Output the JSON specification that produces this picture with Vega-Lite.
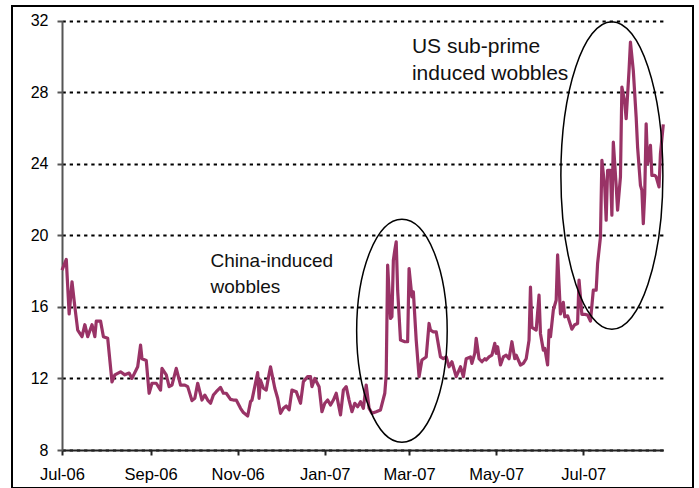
{
  "$schema": "https://vega.github.io/schema/vega-lite/v6.json",
  "width": 681,
  "height": 482,
  "autosize": {"type": "none"},
  "padding": {"left": 12, "top": 6, "right": 6, "bottom": 0},
  "background": "white",
  "config": {"view": {"stroke": "#000", "strokeWidth": 2}, "font": "Liberation Sans"},
  "datasets": {
    "series": [
      {"date":"2006-07-01","value":18.05},{"date":"2006-07-04","value":18.65},{"date":"2006-07-06","value":15.6},{"date":"2006-07-08","value":17.4},
      {"date":"2006-07-10","value":16.0},{"date":"2006-07-12","value":14.7},{"date":"2006-07-15","value":14.33},{"date":"2006-07-17","value":15.0},
      {"date":"2006-07-19","value":14.33},{"date":"2006-07-22","value":15.0},{"date":"2006-07-24","value":14.33},{"date":"2006-07-25","value":15.2},
      {"date":"2006-07-28","value":15.2},{"date":"2006-07-30","value":14.33},{"date":"2006-08-02","value":14.24},{"date":"2006-08-05","value":11.8},
      {"date":"2006-08-07","value":12.2},{"date":"2006-08-11","value":12.37},{"date":"2006-08-14","value":12.2},{"date":"2006-08-17","value":12.3},
      {"date":"2006-08-19","value":12.0},{"date":"2006-08-23","value":12.65},{"date":"2006-08-25","value":13.86},{"date":"2006-08-26","value":13.1},
      {"date":"2006-08-29","value":13.0},{"date":"2006-08-31","value":11.17},{"date":"2006-09-02","value":11.73},{"date":"2006-09-05","value":11.73},
      {"date":"2006-09-08","value":11.35},{"date":"2006-09-09","value":12.56},{"date":"2006-09-12","value":12.2},{"date":"2006-09-14","value":11.54},
      {"date":"2006-09-16","value":11.63},{"date":"2006-09-19","value":12.56},{"date":"2006-09-22","value":11.63},{"date":"2006-09-25","value":11.63},
      {"date":"2006-09-27","value":11.54},{"date":"2006-09-30","value":10.76},{"date":"2006-10-02","value":10.89},{"date":"2006-10-04","value":11.73},
      {"date":"2006-10-07","value":10.79},{"date":"2006-10-09","value":11.07},{"date":"2006-10-11","value":10.79},{"date":"2006-10-13","value":10.61},
      {"date":"2006-10-15","value":11.07},{"date":"2006-10-17","value":11.26},{"date":"2006-10-20","value":11.5},{"date":"2006-10-22","value":11.17},
      {"date":"2006-10-24","value":11.17},{"date":"2006-10-27","value":10.83},{"date":"2006-10-29","value":10.79},{"date":"2006-10-31","value":10.79},
      {"date":"2006-11-03","value":10.33},{"date":"2006-11-05","value":10.09},{"date":"2006-11-08","value":9.9},{"date":"2006-11-10","value":10.7},
      {"date":"2006-11-11","value":10.79},{"date":"2006-11-15","value":12.32},{"date":"2006-11-16","value":10.89},{"date":"2006-11-17","value":11.9},
      {"date":"2006-11-19","value":11.45},{"date":"2006-11-21","value":11.35},{"date":"2006-11-22","value":11.82},{"date":"2006-11-24","value":12.65},
      {"date":"2006-11-27","value":11.45},{"date":"2006-11-29","value":10.89},{"date":"2006-12-01","value":10.05},{"date":"2006-12-03","value":10.33},
      {"date":"2006-12-05","value":10.46},{"date":"2006-12-07","value":10.24},{"date":"2006-12-09","value":11.35},{"date":"2006-12-12","value":11.26},
      {"date":"2006-12-15","value":10.61},{"date":"2006-12-17","value":11.82},{"date":"2006-12-20","value":12.1},{"date":"2006-12-22","value":12.1},
      {"date":"2006-12-23","value":11.54},{"date":"2006-12-25","value":12.0},{"date":"2006-12-28","value":11.54},{"date":"2006-12-30","value":10.14},
      {"date":"2007-01-01","value":10.61},{"date":"2007-01-03","value":10.79},{"date":"2007-01-05","value":10.51},{"date":"2007-01-07","value":10.79},
      {"date":"2007-01-09","value":11.17},{"date":"2007-01-12","value":9.96},{"date":"2007-01-14","value":11.35},{"date":"2007-01-16","value":11.54},
      {"date":"2007-01-18","value":10.79},{"date":"2007-01-20","value":10.14},{"date":"2007-01-22","value":10.61},{"date":"2007-01-24","value":10.42},
      {"date":"2007-01-26","value":10.7},{"date":"2007-01-28","value":10.33},{"date":"2007-01-30","value":11.63},{"date":"2007-02-01","value":10.33},
      {"date":"2007-02-03","value":10.05},{"date":"2007-02-06","value":10.14},{"date":"2007-02-09","value":10.24},{"date":"2007-02-12","value":11.17},
      {"date":"2007-02-13","value":12.2},{"date":"2007-02-14","value":18.33},{"date":"2007-02-16","value":15.35},{"date":"2007-02-17","value":15.45},
      {"date":"2007-02-18","value":18.6},{"date":"2007-02-19","value":19.16},{"date":"2007-02-20","value":19.63},{"date":"2007-02-21","value":16.93},
      {"date":"2007-02-23","value":14.14},{"date":"2007-02-26","value":14.05},{"date":"2007-02-28","value":14.05},{"date":"2007-03-01","value":18.14},
      {"date":"2007-03-03","value":16.56},{"date":"2007-03-04","value":16.84},{"date":"2007-03-06","value":14.14},{"date":"2007-03-08","value":12.1},
      {"date":"2007-03-10","value":13.03},{"date":"2007-03-13","value":13.2},{"date":"2007-03-15","value":15.07},{"date":"2007-03-16","value":14.7},
      {"date":"2007-03-18","value":14.6},{"date":"2007-03-20","value":14.6},{"date":"2007-03-23","value":13.2},{"date":"2007-03-25","value":13.1},
      {"date":"2007-03-27","value":13.2},{"date":"2007-03-29","value":12.65},{"date":"2007-03-31","value":12.93},{"date":"2007-04-02","value":12.37},
      {"date":"2007-04-03","value":12.1},{"date":"2007-04-06","value":12.65},{"date":"2007-04-08","value":12.1},{"date":"2007-04-10","value":13.1},
      {"date":"2007-04-13","value":13.2},{"date":"2007-04-14","value":12.84},{"date":"2007-04-16","value":13.4},{"date":"2007-04-17","value":14.24},
      {"date":"2007-04-19","value":13.1},{"date":"2007-04-21","value":12.93},{"date":"2007-04-23","value":13.1},{"date":"2007-04-24","value":13.03},
      {"date":"2007-04-26","value":13.2},{"date":"2007-04-28","value":13.3},{"date":"2007-04-30","value":13.96},{"date":"2007-05-01","value":13.4},
      {"date":"2007-05-02","value":13.77},{"date":"2007-05-04","value":12.75},{"date":"2007-05-06","value":13.2},{"date":"2007-05-08","value":13.3},
      {"date":"2007-05-10","value":13.1},{"date":"2007-05-12","value":14.05},{"date":"2007-05-14","value":13.1},{"date":"2007-05-15","value":13.3},
      {"date":"2007-05-18","value":12.75},{"date":"2007-05-20","value":12.84},{"date":"2007-05-22","value":13.1},{"date":"2007-05-24","value":14.14},
      {"date":"2007-05-25","value":17.1},{"date":"2007-05-26","value":14.85},{"date":"2007-05-29","value":14.7},{"date":"2007-05-31","value":16.65},
      {"date":"2007-06-01","value":14.5},{"date":"2007-06-03","value":13.58},{"date":"2007-06-04","value":13.68},{"date":"2007-06-06","value":12.75},
      {"date":"2007-06-07","value":14.7},{"date":"2007-06-08","value":14.33},{"date":"2007-06-10","value":15.82},{"date":"2007-06-12","value":16.37},
      {"date":"2007-06-13","value":18.9},{"date":"2007-06-15","value":15.6},{"date":"2007-06-17","value":16.25},{"date":"2007-06-18","value":15.44},
      {"date":"2007-06-20","value":15.5},{"date":"2007-06-23","value":14.75},{"date":"2007-06-25","value":15.0},{"date":"2007-06-27","value":15.07},
      {"date":"2007-06-28","value":17.5},{"date":"2007-06-30","value":15.58},{"date":"2007-07-02","value":15.58},{"date":"2007-07-04","value":15.54},
      {"date":"2007-07-06","value":15.2},{"date":"2007-07-08","value":16.93},{"date":"2007-07-10","value":16.93},{"date":"2007-07-11","value":18.42},
      {"date":"2007-07-13","value":19.9},{"date":"2007-07-14","value":24.19},{"date":"2007-07-16","value":22.7},{"date":"2007-07-17","value":20.84},
      {"date":"2007-07-18","value":23.63},{"date":"2007-07-20","value":23.63},{"date":"2007-07-21","value":21.12},{"date":"2007-07-22","value":25.2},
      {"date":"2007-07-24","value":22.77},{"date":"2007-07-25","value":21.4},{"date":"2007-07-27","value":23.26},{"date":"2007-07-28","value":28.28},
      {"date":"2007-07-30","value":27.44},{"date":"2007-07-31","value":26.51},{"date":"2007-08-02","value":29.2},{"date":"2007-08-03","value":30.79},
      {"date":"2007-08-05","value":29.2},{"date":"2007-08-07","value":26.6},{"date":"2007-08-08","value":24.93},{"date":"2007-08-10","value":22.79},
      {"date":"2007-08-11","value":22.51},{"date":"2007-08-12","value":20.65},{"date":"2007-08-13","value":22.33},{"date":"2007-08-14","value":26.23},
      {"date":"2007-08-15","value":24.0},{"date":"2007-08-17","value":25.02},{"date":"2007-08-18","value":23.35},{"date":"2007-08-20","value":23.35},
      {"date":"2007-08-21","value":23.26},{"date":"2007-08-23","value":22.7},{"date":"2007-08-24","value":24.56},{"date":"2007-08-26","value":26.2}
    ]
  },
  "layer": [
    {
      "data": {"name": "series"},
      "mark": {"type": "line", "color": "#993366", "strokeWidth": 3.2, "strokeJoin": "round"},
      "encoding": {
        "x": {
          "field": "date", "type": "temporal",
          "scale": {"type": "utc", "domain": [{"year": 2006, "month": 7, "date": 1, "utc": true}, {"year": 2007, "month": 8, "date": 26, "utc": true}], "range": [50, 651.3]},
          "axis": {
            "title": null,
            "values": [
              {"year": 2006, "month": 7, "date": 1, "utc": true},
              {"year": 2006, "month": 9, "date": 1, "utc": true},
              {"year": 2006, "month": 11, "date": 1, "utc": true},
              {"year": 2007, "month": 1, "date": 1, "utc": true},
              {"year": 2007, "month": 3, "date": 1, "utc": true},
              {"year": 2007, "month": 5, "date": 1, "utc": true},
              {"year": 2007, "month": 7, "date": 1, "utc": true}
            ],
            "format": "%b-%y",
            "offset": -38,
            "grid": false,
            "domainColor": "#222", "domainWidth": 2,
            "tickColor": "#222", "tickWidth": 2, "tickSize": 5,
            "labelFont": "Liberation Sans", "labelFontSize": 16.5, "labelColor": "#000",
            "labelPadding": 11.5, "labelFlush": false, "labelOverlap": false
          }
        },
        "y": {
          "field": "value", "type": "quantitative",
          "scale": {"domain": [8, 32], "range": [444, 14.5], "nice": false, "zero": false},
          "axis": {
            "title": null,
            "values": [8, 12, 16, 20, 24, 28, 32],
            "offset": -50,
            "grid": true, "gridColor": "#000", "gridDash": [3.3, 3.9], "gridWidth": 2,
            "domainColor": "#555", "domainWidth": 2,
            "tickColor": "#555", "tickWidth": 2, "tickSize": 5,
            "labelFont": "Liberation Sans", "labelFontSize": 16, "labelColor": "#000",
            "labelPadding": 9, "labelFlush": false, "labelOverlap": false
          }
        }
      }
    },
    {
      "mark": {"type": "rule", "color": "#a6a6a6", "strokeWidth": 2},
      "encoding": {
        "x": {"datum": {"year": 2007, "month": 8, "date": 26, "utc": true}, "type": "temporal"},
        "y": {"datum": 8, "type": "quantitative"},
        "y2": {"datum": 32}
      }
    },
    {
      "data": {"values": [{"date": "2006-10-13", "value": 18.24, "label": "China-induced\nwobbles"}]},
      "mark": {"type": "text", "align": "left", "baseline": "alphabetic", "fontSize": 19, "lineHeight": 26, "lineBreak": "\n", "font": "Liberation Sans", "color": "#111"},
      "encoding": {
        "x": {"field": "date", "type": "temporal"},
        "y": {"field": "value", "type": "quantitative"},
        "text": {"field": "label"}
      }
    },
    {
      "data": {"values": [{"date": "2007-03-03", "value": 30.17, "label": "US sub-prime\ninduced wobbles"}]},
      "mark": {"type": "text", "align": "left", "baseline": "alphabetic", "fontSize": 21, "lineHeight": 26.7, "lineBreak": "\n", "font": "Liberation Sans", "color": "#111"},
      "encoding": {
        "x": {"field": "date", "type": "temporal"},
        "y": {"field": "value", "type": "quantitative"},
        "text": {"field": "label"}
      }
    },
    {
      "data": {"values": [{"date": "2007-02-24", "value": 14.66}]},
      "mark": {"type": "point", "shape": "M 0.406 0 C 0.406 0.5523 0.2244 1 0 1 C -0.2244 1 -0.406 0.5523 -0.406 0 C -0.406 -0.5523 -0.2244 -1 0 -1 C 0.2244 -1 0.406 -0.5523 0.406 0 Z", "size": 49729, "filled": false, "stroke": "#000", "strokeWidth": 1.5, "opacity": 1},
      "encoding": {
        "x": {"field": "date", "type": "temporal"},
        "y": {"field": "value", "type": "quantitative"}
      }
    },
    {
      "data": {"values": [{"date": "2007-07-21", "value": 23.34}]},
      "mark": {"type": "point", "shape": "M 0.3316 0 C 0.3316 0.5523 0.1831 1 0 1 C -0.1831 1 -0.3316 0.5523 -0.3316 0 C -0.3316 -0.5523 -0.1831 -1 0 -1 C 0.1831 -1 0.3316 -0.5523 0.3316 0 Z", "size": 94618, "filled": false, "stroke": "#000", "strokeWidth": 1.5, "opacity": 1},
      "encoding": {
        "x": {"field": "date", "type": "temporal"},
        "y": {"field": "value", "type": "quantitative"}
      }
    }
  ]
}
